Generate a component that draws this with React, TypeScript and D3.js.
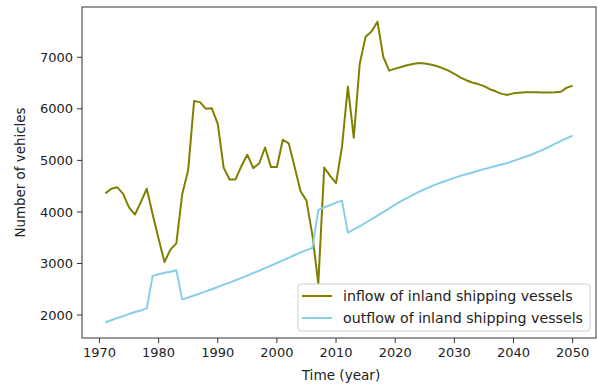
import React from "react";
import * as d3 from "d3";

const years: number[] = d3.range(1971, 2051);

const inflow: number[] = [
  4360, 4450, 4480, 4350, 4090, 3950, 4190, 4450, 3950, 3480,
  3030, 3270, 3390, 4350, 4810, 6150, 6130, 6000, 6010, 5710,
  4860, 4630, 4630, 4890, 5110, 4850, 4940, 5250, 4870, 4870,
  5400, 5330, 4870, 4400, 4220, 3550, 2610, 4860, 4700, 4560,
  5260, 6430, 5440, 6870, 7400, 7500, 7690, 7000, 6740, 6780,
  6810, 6845, 6870, 6890, 6880, 6860, 6830, 6790, 6740, 6680,
  6610, 6555, 6510, 6480, 6440, 6380, 6340, 6290, 6270, 6300,
  6310, 6320, 6320, 6320, 6315, 6315, 6320, 6330, 6410, 6450,
];

const outflow: number[] = [
  1860, 1900, 1940, 1980, 2020, 2060, 2090, 2130, 2760, 2790,
  2820, 2840, 2870, 2300, 2340, 2380, 2420, 2460, 2500, 2545,
  2590, 2630, 2675, 2720, 2765, 2815, 2860, 2910, 2960, 3010,
  3060, 3110, 3165, 3215, 3260, 3300, 4040, 4090, 4130, 4180,
  4220, 3600, 3660, 3720, 3790, 3860, 3930, 4000, 4070, 4140,
  4210, 4270, 4330, 4390, 4440, 4490, 4540, 4580, 4620, 4660,
  4700, 4730, 4760, 4800, 4830, 4860, 4890, 4920, 4950, 4990,
  5030, 5070, 5110, 5160, 5210, 5260, 5320, 5380, 5430, 5480,
];

const xTicks: number[] = [1970, 1980, 1990, 2000, 2010, 2020, 2030, 2040, 2050];
const yTicks: number[] = [2000, 3000, 4000, 5000, 6000, 7000];

const seriesNames: string[] = [
  "inflow of inland shipping vessels",
  "outflow of inland shipping vessels",
];
const seriesColors: string[] = ["#808000", "#87CEEB"];

const W = 598;
const H = 389;
const left = 82;
const right = 596;
const top = 7;
const bottom = 338;
const font = "DejaVu Sans, sans-serif";

export default function App() {
  const xMin = 1971 - 0.05 * 79;
  const xMax = 2050 + 0.05 * 79;
  const x = d3.scaleLinear().domain([xMin, xMax]).range([left, right]);
  const y = d3.scaleLinear().domain([1555, 7975]).range([bottom, top]);

  const line = d3
    .line<number>()
    .x((_, i) => x(years[i]))
    .y((d) => y(d));

  const all = [inflow, outflow];

  const legX = 298;
  const legY = 284;

  return (
    <svg
      width={W}
      height={H}
      style={{ position: "absolute", left: 0, top: 0, background: "#fff" }}
      fontFamily={font}
    >
      <rect x={0} y={0} width={W} height={H} fill="#fff" />
      {all.map((s, k) => (
        <path
          key={k}
          d={line(s) || ""}
          fill="none"
          stroke={seriesColors[k]}
          strokeWidth={2}
          strokeLinejoin="round"
        />
      ))}
      <rect
        x={left}
        y={top}
        width={right - left}
        height={bottom - top}
        fill="none"
        stroke="#333"
        strokeWidth={1}
      />
      {xTicks.map((t) => (
        <g key={t} transform={`translate(${x(t)},${bottom})`}>
          <line y1={0} y2={5} stroke="#333" />
          <text y={19} textAnchor="middle" fontSize={13} fill="#222">
            {t}
          </text>
        </g>
      ))}
      {yTicks.map((t) => (
        <g key={t} transform={`translate(${left},${y(t)})`}>
          <line x1={0} x2={-5} stroke="#333" />
          <text x={-9} dy="0.35em" textAnchor="end" fontSize={13} fill="#222">
            {t}
          </text>
        </g>
      ))}
      <text
        x={341}
        y={380}
        textAnchor="middle"
        fontSize={13.6}
        fill="#222"
      >
        Time (year)
      </text>
      <text
        transform={`translate(25,${(top + bottom) / 2}) rotate(-90)`}
        textAnchor="middle"
        fontSize={13.4}
        fill="#222"
      >
        Number of vehicles
      </text>
      <rect
        x={legX}
        y={legY}
        width={292}
        height={47}
        rx={3}
        fill="#fff"
        fillOpacity={0.8}
        stroke="#ccc"
      />
      {seriesNames.map((n, k) => (
        <g key={n} transform={`translate(${legX},${legY + 12 + k * 22})`}>
          <line x1={4} x2={34} y1={0} y2={0} stroke={seriesColors[k]} strokeWidth={2} />
          <text x={45} dy="0.35em" fontSize={14.2} fill="#222">
            {n}
          </text>
        </g>
      ))}
    </svg>
  );
}
